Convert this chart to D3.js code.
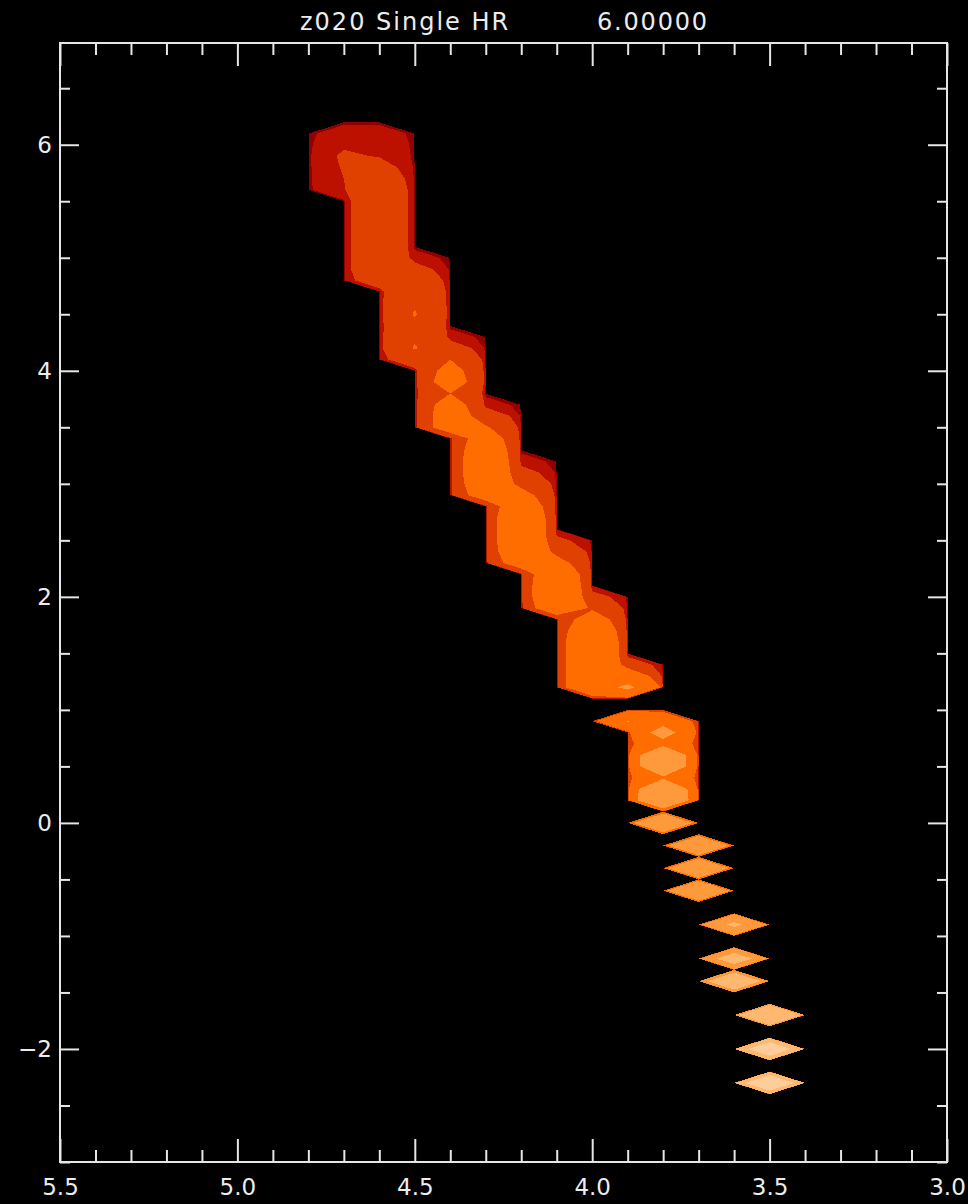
<!DOCTYPE html>
<html>
<head>
<meta charset="utf-8">
<script src="https://cdn.jsdelivr.net/npm/d3@7"></script>
<style>
  html, body { margin: 0; padding: 0; background: #000; }
  svg { display: block; }
  text { font-family: "DejaVu Sans", sans-serif; fill: #ececec; }
</style>
</head>
<body>
<svg id="chart" width="968" height="1204"></svg>
<script>
// Population density in the HR diagram: log10 of the number of stars in each
// 0.1 dex (log Teff) x 0.1 dex (log L) cell. Each run lists one column of
// cells, starting at runTopLum and stepping down by 0.1 dex; null = empty cell.
const runTeff   = [4.7, 4.6, 4.5, 4.4, 4.3, 4.2, 4.1, 4.0, 3.9, 3.9, 3.8, 3.8, 3.7, 3.6, 3.5];
const runTopLum = [6.1, 6.1, 5.0, 4.3, 3.7, 3.2, 2.5, 2.0, 1.4, 0.9, 0.9, 0.0, -0.2, -0.9, -1.7];
const runLogN = [
  [2.6, 2.9, 3.1, 3.05, 3.0, 2.9],
  [2.6, 2.8, 2.95, 3.3, 3.55, 3.7, 3.7, 3.7, 3.7, 3.7, 3.7, 3.7, 3.7, 3.5],
  [2.5, 3.3, 3.7, 3.9, 3.95, 4.03, 3.9, 3.95, 4.03, 3.6],
  [2.5, 3.4, 4.0, 4.2, 4.28, 4.0, 4.25, 4.3, 4.3],
  [2.5, 3.5, 4.05, 4.3, 4.4, 4.45, 4.45, 4.4, 4.3],
  [2.5, 3.3, 3.8, 4.2, 4.4, 4.5, 4.5, 4.5, 4.45, 4.3],
  [3.2, 3.8, 4.2, 4.45, 4.5, 4.5, 4.4],
  [3.3, 3.9, 4.3, 4.5, 4.6, 4.6, 4.6, 4.6, 4.6],
  [3.5, 4.4, 5.1],
  [5.02],
  [4.75, 5.2, 4.75, 5.45, 5.45, 4.9, 5.5, 5.55],
  [5.8],
  [5.85, null, 5.9, null, 5.95],
  [6.1, null, null, 6.3, null, 6.6],
  [6.95, null, null, 7.4, null, null, 7.5]
];

// Filled contour levels (log10 N) and their colours
const levels = [1, 2, 3, 4, 5, 6, 7];
const levelColors = ["#900000", "#bc1000", "#e04000", "#ff6c00", "#ff9a3c", "#ffb870", "#ffcc9c"];

// Axis ticks
const xMajorTicks = [5.5, 5.0, 4.5, 4.0, 3.5, 3.0];
const yMajorTicks = [-2, 0, 2, 4, 6];

const titleLeft = "z020 Single HR";
const titleRight = "6.00000";

// Cell grid covering the whole plot window
const T0 = 3.0, T1 = 5.5, L0 = -3.0, L1 = 6.9, STEP = 0.1;
const nx = Math.round((T1 - T0) / STEP) + 1;
const ny = Math.round((L1 - L0) / STEP) + 1;

const box = { left: 60, right: 947, top: 43, bottom: 1162 };
const x = d3.scaleLinear().domain([5.5, 3.0]).range([box.left, box.right]);
const y = d3.scaleLinear().domain([L0, L1]).range([box.bottom, box.top]);

const svg = d3.select("#chart");
svg.append("rect").attr("width", 968).attr("height", 1204).attr("fill", "#000");

// Fill the grid with star counts
const grid = new Float64Array(nx * ny);
runTeff.forEach((t, r) => {
  runLogN[r].forEach((v, k) => {
    if (v == null) return;
    const l = runTopLum[r] - k * STEP;
    const i = Math.round((t - T0) / STEP);
    const j = Math.round((l - L0) / STEP);
    grid[j * nx + i] = Math.pow(10, v);
  });
});

const contours = d3.contours()
  .size([nx, ny])
  .thresholds(levels.map(v => Math.pow(10, v)))(grid);

const toPlot = d3.geoTransform({
  point: function (gx, gy) {
    this.stream.point(x(T0 + (gx - 0.5) * STEP), y(L0 + (gy - 0.5) * STEP));
  }
});
const path = d3.geoPath(toPlot);

svg.append("clipPath").attr("id", "plot-clip")
  .append("rect")
  .attr("x", box.left).attr("y", box.top)
  .attr("width", box.right - box.left).attr("height", box.bottom - box.top);

svg.append("g")
  .attr("clip-path", "url(#plot-clip)")
  .selectAll("path")
  .data(contours)
  .join("path")
  .attr("d", path)
  .attr("fill", (d, i) => levelColors[i])
  .attr("shape-rendering", "crispEdges");

// Axes: inward ticks on all four sides, labels on left and bottom
const axisColor = "#e6e6e6";
const xMinorTicks = d3.range(30, 56).map(v => v / 10).filter(v => !xMajorTicks.includes(v));
const yMinorTicks = d3.range(-6, 14).map(v => v / 2).filter(v => !yMajorTicks.includes(v));

function styleAxis(g) {
  g.select(".domain").remove();
  g.selectAll("line").attr("stroke", axisColor).attr("stroke-width", 2);
  g.selectAll("text").attr("fill", axisColor).attr("font-size", 23)
    .attr("font-family", "DejaVu Sans, sans-serif");
}

svg.append("g").attr("transform", `translate(0,${box.bottom})`)
  .call(d3.axisBottom(x).tickValues(xMajorTicks).tickSize(-23).tickPadding(17).tickFormat(d3.format(".1f")))
  .call(styleAxis);
svg.append("g").attr("transform", `translate(0,${box.bottom})`)
  .call(d3.axisBottom(x).tickValues(xMinorTicks).tickSize(-12).tickFormat(""))
  .call(styleAxis);
svg.append("g").attr("transform", `translate(0,${box.top})`)
  .call(d3.axisTop(x).tickValues(xMajorTicks).tickSize(-23).tickFormat(""))
  .call(styleAxis);
svg.append("g").attr("transform", `translate(0,${box.top})`)
  .call(d3.axisTop(x).tickValues(xMinorTicks).tickSize(-12).tickFormat(""))
  .call(styleAxis);

svg.append("g").attr("transform", `translate(${box.left},0)`)
  .call(d3.axisLeft(y).tickValues(yMajorTicks).tickSize(-19).tickPadding(8).tickFormat(d3.format("d")))
  .call(styleAxis);
svg.append("g").attr("transform", `translate(${box.left},0)`)
  .call(d3.axisLeft(y).tickValues(yMinorTicks).tickSize(-10).tickFormat(""))
  .call(styleAxis);
svg.append("g").attr("transform", `translate(${box.right},0)`)
  .call(d3.axisRight(y).tickValues(yMajorTicks).tickSize(-19).tickFormat(""))
  .call(styleAxis);
svg.append("g").attr("transform", `translate(${box.right},0)`)
  .call(d3.axisRight(y).tickValues(yMinorTicks).tickSize(-10).tickFormat(""))
  .call(styleAxis);

// Frame
svg.append("rect")
  .attr("x", box.left).attr("y", box.top)
  .attr("width", box.right - box.left).attr("height", box.bottom - box.top)
  .attr("fill", "none").attr("stroke", axisColor).attr("stroke-width", 2);

// Title
svg.append("text").attr("x", 300).attr("y", 30)
  .attr("font-size", 24).attr("letter-spacing", 2).text(titleLeft);
svg.append("text").attr("x", 597).attr("y", 30)
  .attr("font-size", 24).attr("letter-spacing", 1.8).text(titleRight);
</script>
</body>
</html>
